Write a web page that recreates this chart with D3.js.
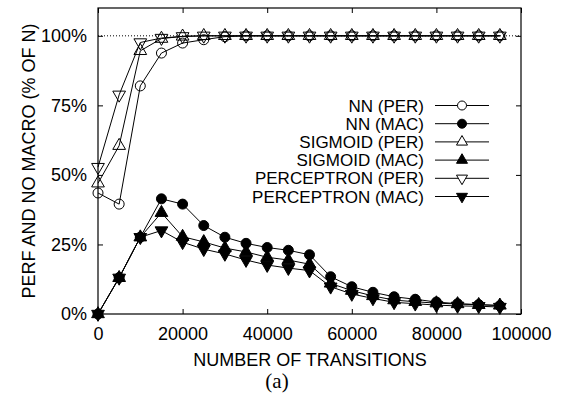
<!DOCTYPE html>
<html><head><meta charset="utf-8">
<script src="https://cdn.jsdelivr.net/npm/d3@7"></script>
<style>body{margin:0;background:#fff}svg{display:block}text{font-family:"Liberation Sans",Arial,sans-serif;fill:#000}</style>
</head><body><svg id="c" width="561" height="399"></svg>
<script>
const transitions = [0,5000,10000,15000,20000,25000,30000,35000,40000,45000,50000,55000,60000,65000,70000,75000,80000,85000,90000,95000];
const nnPer   = [43.5,39.5,82.0,93.8,97.4,98.6,99.7,100,100,100,100,100,100,100,100,100,100,100,100,100];
const nnMac   = [0,13.1,27.6,41.4,39.5,31.8,27.6,25.4,23.9,22.9,21.3,13.4,9.8,7.8,6.2,5.3,4.3,3.7,3.4,3.0];
const sigPer  = [47.0,60.5,94.6,99.0,99.8,100,100,100,100,100,100,100,100,100,100,100,100,100,100,100];
const sigMac  = [0,13.0,27.6,36.4,27.8,25.9,23.7,22.3,20.4,19.4,17.9,11.0,8.4,6.5,5.0,4.4,3.9,3.6,3.3,3.1];
const percPer = [52.8,78.8,97.6,99.2,99.8,100,100,100,100,100,100,100,100,100,100,100,100,100,100,100];
const percMac = [0,13.0,27.6,30.0,25.8,23.3,21.6,19.4,17.6,16.5,15.6,9.8,7.2,5.6,4.2,3.7,3.2,2.9,2.8,2.5];
const xTicks = [0,20000,40000,60000,80000,100000];
const yTicks = [0,25,50,75,100];
const seriesNames = ["NN (PER)","NN (MAC)","SIGMOID (PER)","SIGMOID (MAC)","PERCEPTRON (PER)","PERCEPTRON (MAC)"];
const seriesValues = [nnPer,nnMac,sigPer,sigMac,percPer,percMac];
const seriesMarker = ["circle","circle","up","up","down","down"];
const seriesFilled = [false,true,false,true,false,true];

const svg = d3.select("#c");
const L=98, R=521, T=8, B=314, FS=18;
const x = d3.scaleLinear().domain([0,100000]).range([L,R]);
const y = d3.scaleLinear().domain([0,110]).range([B,T]);

svg.append("line").attr("x1",L).attr("x2",R).attr("y1",y(100)).attr("y2",y(100))
  .attr("stroke","#000").attr("stroke-width",1).attr("stroke-dasharray","1,2");

const tl = 5;
const styleText = g=>{g.select(".domain").remove();g.selectAll("text").attr("font-size",FS).attr("font-family","Liberation Sans");};
svg.append("g").attr("transform",`translate(0,${B})`)
  .call(d3.axisBottom(x).tickValues(xTicks).tickSize(-tl).tickPadding(13).tickFormat(d3.format("d")))
  .call(styleText);
svg.append("g").attr("transform",`translate(0,${T})`)
  .call(d3.axisTop(x).tickValues(xTicks).tickSize(-tl).tickFormat(""))
  .call(g=>g.select(".domain").remove());
svg.append("g").attr("transform",`translate(${L},0)`)
  .call(d3.axisLeft(y).tickValues(yTicks).tickSize(-tl).tickPadding(11).tickFormat(d=>d+"%"))
  .call(styleText);
svg.append("g").attr("transform",`translate(${R},0)`)
  .call(d3.axisRight(y).tickValues(yTicks).tickSize(-tl).tickFormat(""))
  .call(g=>g.select(".domain").remove());
svg.selectAll(".tick line").attr("stroke","#000");

svg.append("rect").attr("x",L).attr("y",T).attr("width",R-L).attr("height",B-T)
  .attr("fill","none").attr("stroke","#000").attr("stroke-width",1.2);

function symPath(type,r){
  return type==="circle" ? d3.symbol(d3.symbolCircle,Math.PI*r*r)() : d3.symbol(d3.symbolTriangle,r*r*2.6)();
}

const line = d3.line().x((d,i)=>x(transitions[i])).y(d=>y(d));
seriesValues.forEach((vals,si)=>{
  const g = svg.append("g");
  g.append("path").datum(vals).attr("d",line).attr("fill","none").attr("stroke","#000").attr("stroke-width",1);
  const type=seriesMarker[si], r = type==="circle"?5:5.2;
  g.selectAll("path.m").data(vals).join("path").attr("class","m")
    .attr("d",symPath(type,r))
    .attr("transform",(v,i)=>`translate(${x(transitions[i])},${y(v)})`+(type==="down"?" rotate(180)":""))
    .attr("fill",seriesFilled[si]?"#000":"none").attr("stroke","#000").attr("stroke-width",1);
});

const legY0 = 105.5, legDy = 18.2;
seriesNames.forEach((name,si)=>{
  const yy = legY0 + si*legDy;
  svg.append("text").attr("x",424).attr("y",yy).attr("dy","0.36em").attr("text-anchor","end")
    .attr("font-size",17).text(name);
  svg.append("line").attr("x1",435).attr("x2",489).attr("y1",yy).attr("y2",yy).attr("stroke","#000");
  const type=seriesMarker[si], r = 4.5;
  svg.append("path").attr("transform",`translate(462,${yy})`+(type==="down"?" rotate(180)":""))
    .attr("d",symPath(type,r))
    .attr("fill",seriesFilled[si]?"#000":"#fff").attr("stroke","#000");
});

svg.append("text").attr("x",310).attr("y",366).attr("text-anchor","middle").attr("font-size",FS)
  .text("NUMBER OF TRANSITIONS");
svg.append("text").attr("transform","translate(35,161) rotate(-90)").attr("text-anchor","middle").attr("font-size",FS)
  .text("PERF AND NO MACRO (% OF N)");
svg.append("text").attr("x",277).attr("y",388).attr("text-anchor","middle").attr("font-size",21)
  .style("font-family","'Liberation Serif','DejaVu Serif',serif").text("(a)");
</script></body></html>
